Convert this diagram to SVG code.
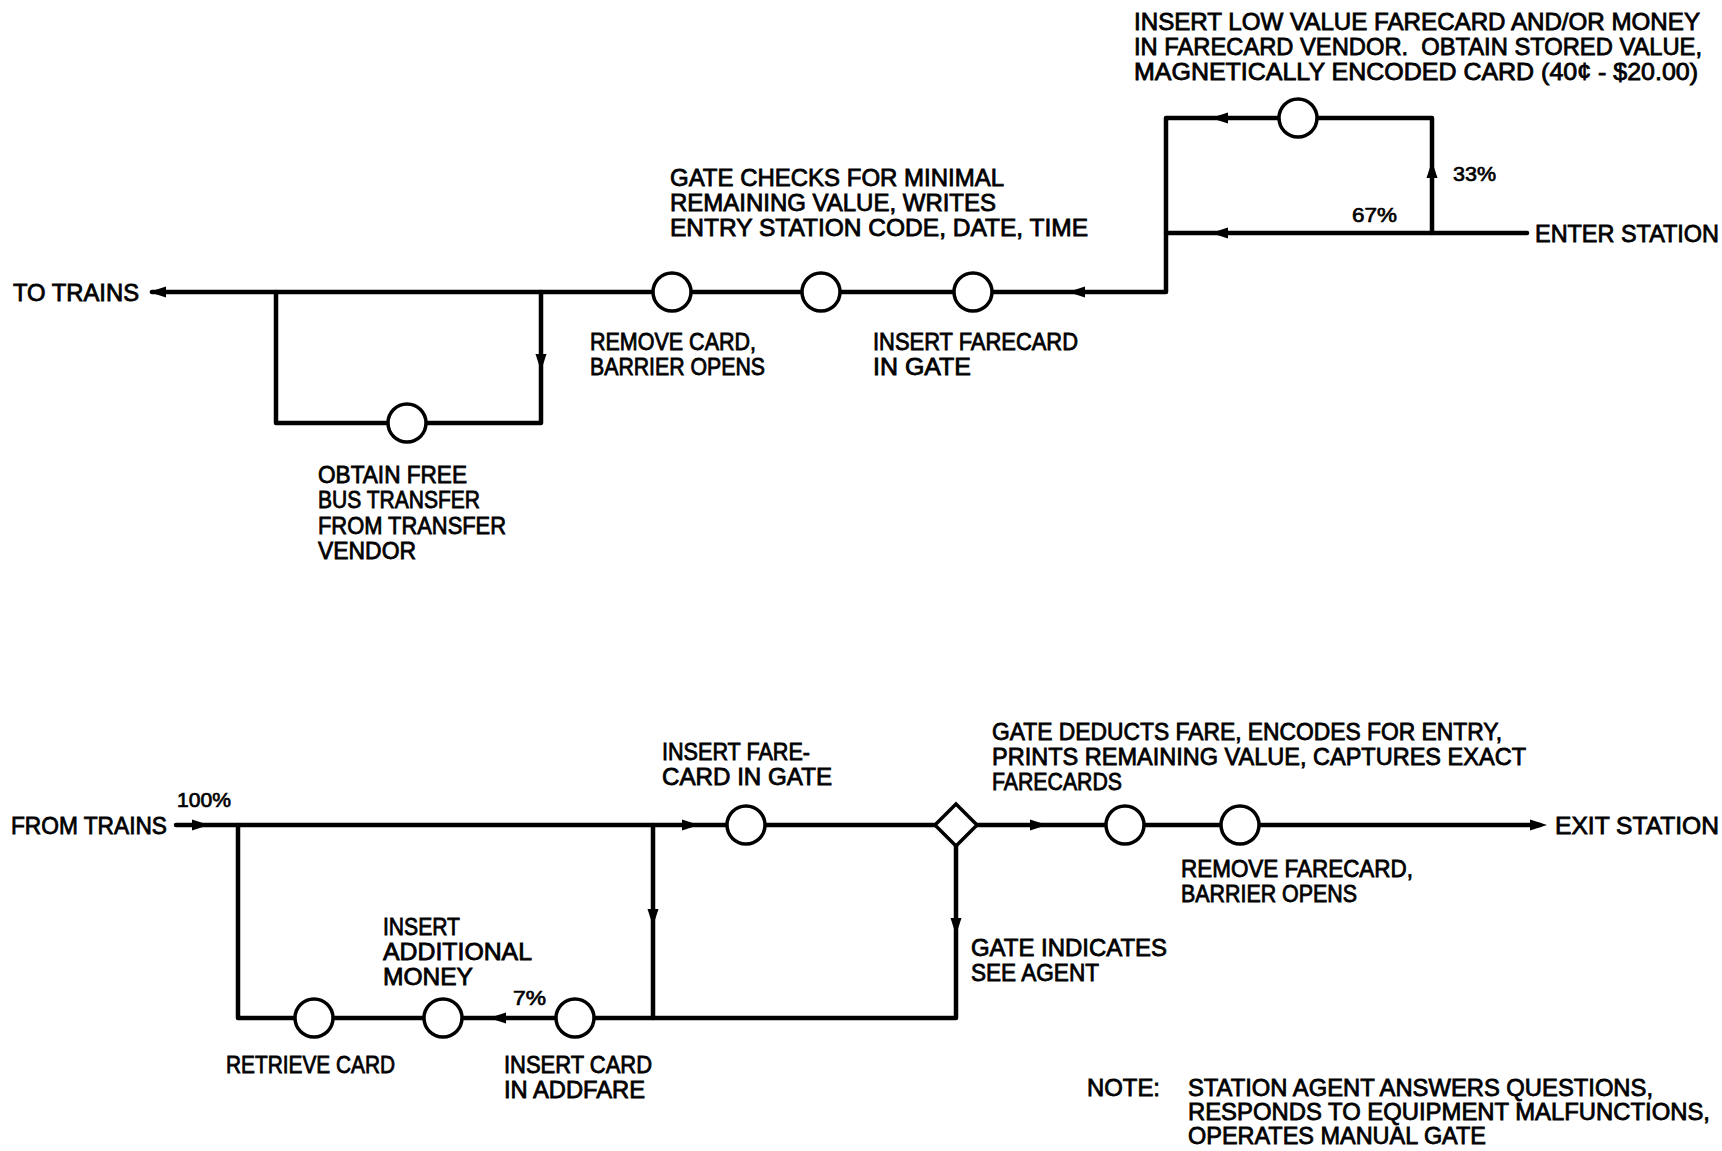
<svg xmlns="http://www.w3.org/2000/svg" xmlns:xlink="http://www.w3.org/1999/xlink" width="1722" height="1151" viewBox="0 0 1722 1151">
<style>
  .ln { fill: none; stroke: #000; stroke-width: 4.5; stroke-linejoin: round; stroke-linecap: round; }
  .nd { fill: #fff; stroke: #000; stroke-width: 3.5; }
  .t { font-family: "Liberation Sans", Arial, sans-serif; font-size: 24px; fill: #000; stroke: #000; stroke-width: 0.8; }
  .s { font-size: 21px; stroke-width: 0.7; }
  .ah { fill: #000; }
</style>
<defs>
  <path id="ah" class="ah" d="M9,0 L-8,-5.5 L-8,5.5 Z"/>
</defs>
<rect width="1722" height="1151" fill="#fff"/>

<g id="connectors">
  <!-- top section -->
  <path class="ln" d="M1432,233 V118 H1166 V292 H152"/>
  <path class="ln" d="M1527,233 H1166"/>
  <path class="ln" d="M276,292 V423 H541 V292"/>
  <use href="#ah" transform="translate(1220,118) rotate(180)"/>
  <use href="#ah" transform="translate(1220,233) rotate(180)"/>
  <use href="#ah" transform="translate(1432,170) rotate(-90)"/>
  <use href="#ah" transform="translate(1077,292) rotate(180)"/>
  <use href="#ah" transform="translate(158,292) rotate(180)"/>
  <use href="#ah" transform="translate(541,362) rotate(90)"/>
  <!-- bottom section -->
  <path class="ln" d="M176,825 H1540"/>
  <path class="ln" d="M238,825 V1018 H956 V846"/>
  <path class="ln" d="M653,825 V1018"/>
  <use href="#ah" transform="translate(200,825)"/>
  <use href="#ah" transform="translate(690,825)"/>
  <use href="#ah" transform="translate(1038,825)"/>
  <use href="#ah" transform="translate(1538,825)"/>
  <use href="#ah" transform="translate(653,917) rotate(90)"/>
  <use href="#ah" transform="translate(956,926) rotate(90)"/>
  <use href="#ah" transform="translate(498,1018) rotate(180)"/>
</g>

<!-- top section nodes -->
<g id="enter-station">
  <text class="t" x="1535" y="242" textLength="184" lengthAdjust="spacingAndGlyphs">ENTER STATION</text>
</g>
<g id="farecard-vendor">
  <circle class="nd" cx="1298" cy="118" r="19"/>
  <text class="t" x="1134" y="30" textLength="566" lengthAdjust="spacingAndGlyphs">INSERT LOW VALUE FARECARD AND/OR MONEY</text>
  <text class="t" x="1134" y="55" textLength="568" lengthAdjust="spacingAndGlyphs">IN FARECARD VENDOR.&#160; OBTAIN STORED VALUE,</text>
  <text class="t" x="1134" y="80" textLength="564" lengthAdjust="spacingAndGlyphs">MAGNETICALLY ENCODED CARD (40¢ - $20.00)</text>
</g>
<g id="pct-top">
  <text class="t s" x="1453" y="181" textLength="43" lengthAdjust="spacingAndGlyphs">33%</text>
  <text class="t s" x="1352" y="222" textLength="45" lengthAdjust="spacingAndGlyphs">67%</text>
</g>
<g id="insert-farecard-gate">
  <circle class="nd" cx="973" cy="292" r="19"/>
  <text class="t" x="873" y="350" textLength="205" lengthAdjust="spacingAndGlyphs">INSERT FARECARD</text>
  <text class="t" x="873" y="375" textLength="98" lengthAdjust="spacingAndGlyphs">IN GATE</text>
</g>
<g id="gate-checks">
  <circle class="nd" cx="821" cy="292" r="19"/>
  <text class="t" x="670" y="186" textLength="334" lengthAdjust="spacingAndGlyphs">GATE CHECKS FOR MINIMAL</text>
  <text class="t" x="670" y="211" textLength="326" lengthAdjust="spacingAndGlyphs">REMAINING VALUE, WRITES</text>
  <text class="t" x="670" y="236" textLength="418" lengthAdjust="spacingAndGlyphs">ENTRY STATION CODE, DATE, TIME</text>
</g>
<g id="remove-card">
  <circle class="nd" cx="672" cy="292" r="19"/>
  <text class="t" x="590" y="350" textLength="166" lengthAdjust="spacingAndGlyphs">REMOVE CARD,</text>
  <text class="t" x="590" y="375" textLength="175" lengthAdjust="spacingAndGlyphs">BARRIER OPENS</text>
</g>
<g id="bus-transfer">
  <circle class="nd" cx="407" cy="423" r="19"/>
  <text class="t" x="318" y="483" textLength="149" lengthAdjust="spacingAndGlyphs">OBTAIN FREE</text>
  <text class="t" x="318" y="508" textLength="162" lengthAdjust="spacingAndGlyphs">BUS TRANSFER</text>
  <text class="t" x="318" y="534" textLength="188" lengthAdjust="spacingAndGlyphs">FROM TRANSFER</text>
  <text class="t" x="318" y="559" textLength="98" lengthAdjust="spacingAndGlyphs">VENDOR</text>
</g>
<g id="to-trains">
  <text class="t" x="13" y="301" textLength="126" lengthAdjust="spacingAndGlyphs">TO TRAINS</text>
</g>

<!-- bottom section nodes -->
<g id="from-trains">
  <text class="t" x="11" y="834" textLength="156" lengthAdjust="spacingAndGlyphs">FROM TRAINS</text>
  <text class="t s" x="177" y="807" textLength="54" lengthAdjust="spacingAndGlyphs">100%</text>
</g>
<g id="insert-farecard-exit">
  <circle class="nd" cx="746" cy="825" r="19"/>
  <text class="t" x="662" y="760" textLength="148" lengthAdjust="spacingAndGlyphs">INSERT FARE-</text>
  <text class="t" x="662" y="785" textLength="170" lengthAdjust="spacingAndGlyphs">CARD IN GATE</text>
</g>
<g id="gate-decision">
  <path class="nd" d="M956,804 L977,825 L956,846 L935,825 Z"/>
  <text class="t" x="971" y="956" textLength="196" lengthAdjust="spacingAndGlyphs">GATE INDICATES</text>
  <text class="t" x="971" y="981" textLength="128" lengthAdjust="spacingAndGlyphs">SEE AGENT</text>
</g>
<g id="gate-deducts">
  <circle class="nd" cx="1125" cy="825" r="19"/>
  <text class="t" x="992" y="740" textLength="510" lengthAdjust="spacingAndGlyphs">GATE DEDUCTS FARE, ENCODES FOR ENTRY,</text>
  <text class="t" x="992" y="765" textLength="534" lengthAdjust="spacingAndGlyphs">PRINTS REMAINING VALUE, CAPTURES EXACT</text>
  <text class="t" x="992" y="790" textLength="130" lengthAdjust="spacingAndGlyphs">FARECARDS</text>
</g>
<g id="remove-farecard">
  <circle class="nd" cx="1240" cy="825" r="19"/>
  <text class="t" x="1181" y="877" textLength="232" lengthAdjust="spacingAndGlyphs">REMOVE FARECARD,</text>
  <text class="t" x="1181" y="902" textLength="176" lengthAdjust="spacingAndGlyphs">BARRIER OPENS</text>
</g>
<g id="exit-station">
  <text class="t" x="1555" y="834" textLength="164" lengthAdjust="spacingAndGlyphs">EXIT STATION</text>
</g>
<g id="addfare">
  <circle class="nd" cx="575" cy="1018" r="19"/>
  <text class="t" x="504" y="1073" textLength="148" lengthAdjust="spacingAndGlyphs">INSERT CARD</text>
  <text class="t" x="504" y="1098" textLength="141" lengthAdjust="spacingAndGlyphs">IN ADDFARE</text>
  <text class="t s" x="513" y="1005" textLength="33" lengthAdjust="spacingAndGlyphs">7%</text>
</g>
<g id="additional-money">
  <circle class="nd" cx="443" cy="1018" r="19"/>
  <text class="t" x="383" y="935" textLength="77" lengthAdjust="spacingAndGlyphs">INSERT</text>
  <text class="t" x="383" y="960" textLength="149" lengthAdjust="spacingAndGlyphs">ADDITIONAL</text>
  <text class="t" x="383" y="985" textLength="90" lengthAdjust="spacingAndGlyphs">MONEY</text>
</g>
<g id="retrieve-card">
  <circle class="nd" cx="314" cy="1018" r="19"/>
  <text class="t" x="226" y="1073" textLength="169" lengthAdjust="spacingAndGlyphs">RETRIEVE CARD</text>
</g>
<g id="note">
  <text class="t" x="1087" y="1096" textLength="73" lengthAdjust="spacingAndGlyphs">NOTE:</text>
  <text class="t" x="1188" y="1096" textLength="465" lengthAdjust="spacingAndGlyphs">STATION AGENT ANSWERS QUESTIONS,</text>
  <text class="t" x="1188" y="1120" textLength="522" lengthAdjust="spacingAndGlyphs">RESPONDS TO EQUIPMENT MALFUNCTIONS,</text>
  <text class="t" x="1188" y="1144" textLength="298" lengthAdjust="spacingAndGlyphs">OPERATES MANUAL GATE</text>
</g>
</svg>
